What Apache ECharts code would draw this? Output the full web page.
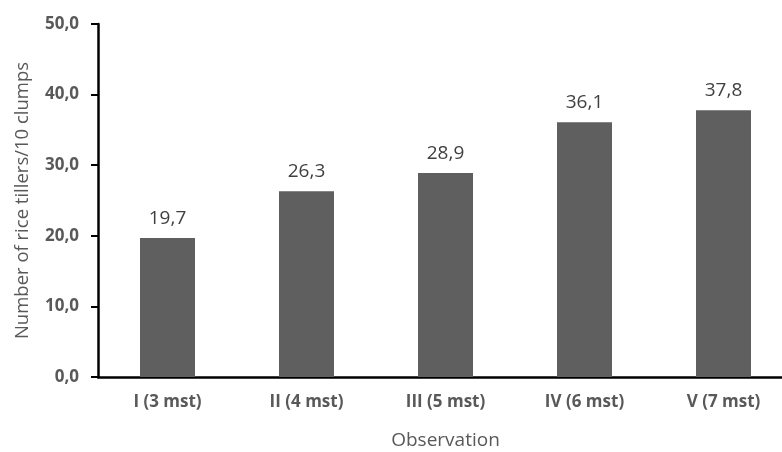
<!DOCTYPE html>
<html>
<head>
<meta charset="utf-8">
<script src="https://cdn.jsdelivr.net/npm/echarts@6/dist/echarts.min.js"></script>
<style>
  html, body { margin: 0; padding: 0; background: #fff; }
  #chart { width: 782px; height: 452px; }
</style>
</head>
<body>
<div id="chart"></div>
<script>
// Rice tillers per 10 clumps at each observation
const categories = ['I (3 mst)', 'II (4 mst)', 'III (5 mst)', 'IV (6 mst)', 'V (7 mst)'];
const tillers = [19.7, 26.3, 28.9, 36.1, 37.8];

const fmt = v => v.toFixed(1).replace('.', ',');
const font = '"Open Sans", "Noto Sans", sans-serif';

const chart = echarts.init(document.getElementById('chart'));
chart.setOption({
  animation: false,
  grid: { left: 98, right: -11, top: 24, bottom: 75, containLabel: false, outerBoundsMode: 'none' },
  xAxis: {
    type: 'category',
    data: categories,
    name: 'Observation',
    nameLocation: 'middle',
    nameGap: 54,
    nameTextStyle: { fontFamily: font, fontSize: 19, color: '#595959' },
    axisLine: { lineStyle: { color: '#000', width: 2.5 } },
    axisTick: { show: false },
    axisLabel: { fontFamily: font, fontSize: 17, fontWeight: 'bold', color: '#595959', margin: 17 }
  },
  yAxis: {
    type: 'value',
    min: 0, max: 50, interval: 10,
    name: 'Number of rice tillers/10 clumps',
    nameLocation: 'middle',
    nameGap: 66,
    nameTextStyle: { fontFamily: font, fontSize: 18.5, color: '#595959' },
    axisLine: { show: true, lineStyle: { color: '#000', width: 2.5 } },
    axisTick: { show: true, inside: false, length: 7, lineStyle: { color: '#000', width: 2 } },
    splitLine: { show: false },
    axisLabel: { fontFamily: font, fontSize: 17, fontWeight: 'bold', color: '#595959', margin: 19, formatter: fmt }
  },
  series: [{
    type: 'bar',
    data: tillers,
    barWidth: 55,
    itemStyle: { color: '#5f5f5f' },
    label: {
      show: true, position: 'top', distance: 10,
      fontFamily: font, fontSize: 19, color: '#404040',
      formatter: p => fmt(p.value)
    }
  }]
});
</script>
</body>
</html>
